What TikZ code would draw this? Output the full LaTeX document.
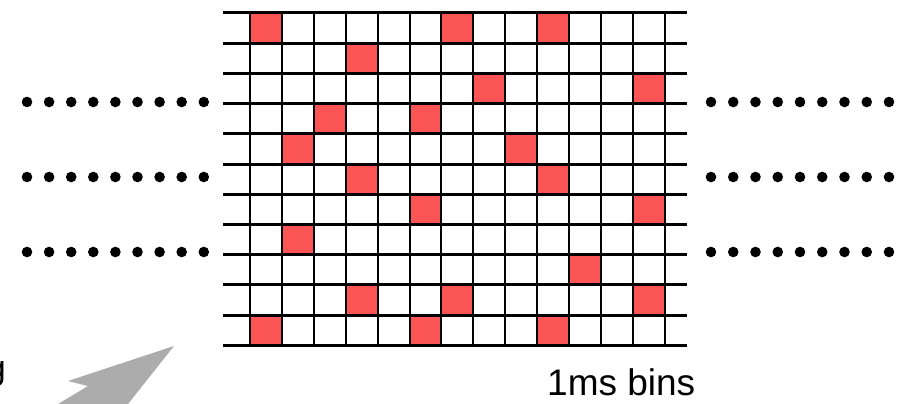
\documentclass[tikz,border=0pt]{standalone}
\usepackage{fontspec}
\setmainfont{Liberation Sans}
\usepackage{xcolor}
\usepackage{tikz}
\usetikzlibrary{positioning}
\definecolor{binred}{RGB}{250,84,84}
\definecolor{arrowgray}{RGB}{172,172,172}
\tikzset{
    gridrow/.style={line width=3pt},
    gridcol/.style={line width=2pt},
    spikebin/.style={fill=binred}
}

\begin{document}
\begin{tikzpicture}[x=1pt, y=-1pt]

    \useasboundingbox (0,0) rectangle (900,404);

    % Red bins (column/row)
    \foreach \c/\r in {0/0, 6/0, 9/0, 3/1, 7/2, 12/2, 2/3, 5/3, 1/4, 8/4,
                       3/5, 9/5, 5/6, 12/6, 1/7, 10/8, 3/9, 6/9, 12/9,
                       0/10, 5/10, 9/10}
        \fill[spikebin] ({250+31.9*\c},{13+30.2*\r}) rectangle ++(31.9,30.2);

    % Vertical lines
    \foreach \c in {0,...,13}
        \draw[gridcol] ({250+31.9*\c},13) -- ({250+31.9*\c},345.2);

    % Horizontal lines
    \foreach \r in {0,...,11}
        \draw[gridrow] (223,{13+30.2*\r}) -- (687,{13+30.2*\r});

    % Dotted continuation rows
    \foreach \y in {102,177,252} {
        \foreach \k in {0,...,8} {
            \fill ({27+22.1*\k},\y) circle (5.3pt);
            \fill ({711+22.25*\k},\y) circle (5.3pt);
        }
    }

    % Grey arrow
    \fill[arrowgray] (174,346) -- (68,381) -- (88,386) -- (58,404) -- (128,404) -- cycle;

    % Labels
    \node[anchor=base west, inner sep=0pt, font=\fontsize{37}{44}\selectfont] (bins) at (547,395) {1ms bins};
    \node[anchor=base east, inner sep=0pt, font=\fontsize{34}{40}\selectfont] (cut) at (6,379) {g};

\end{tikzpicture}
\end{document}
